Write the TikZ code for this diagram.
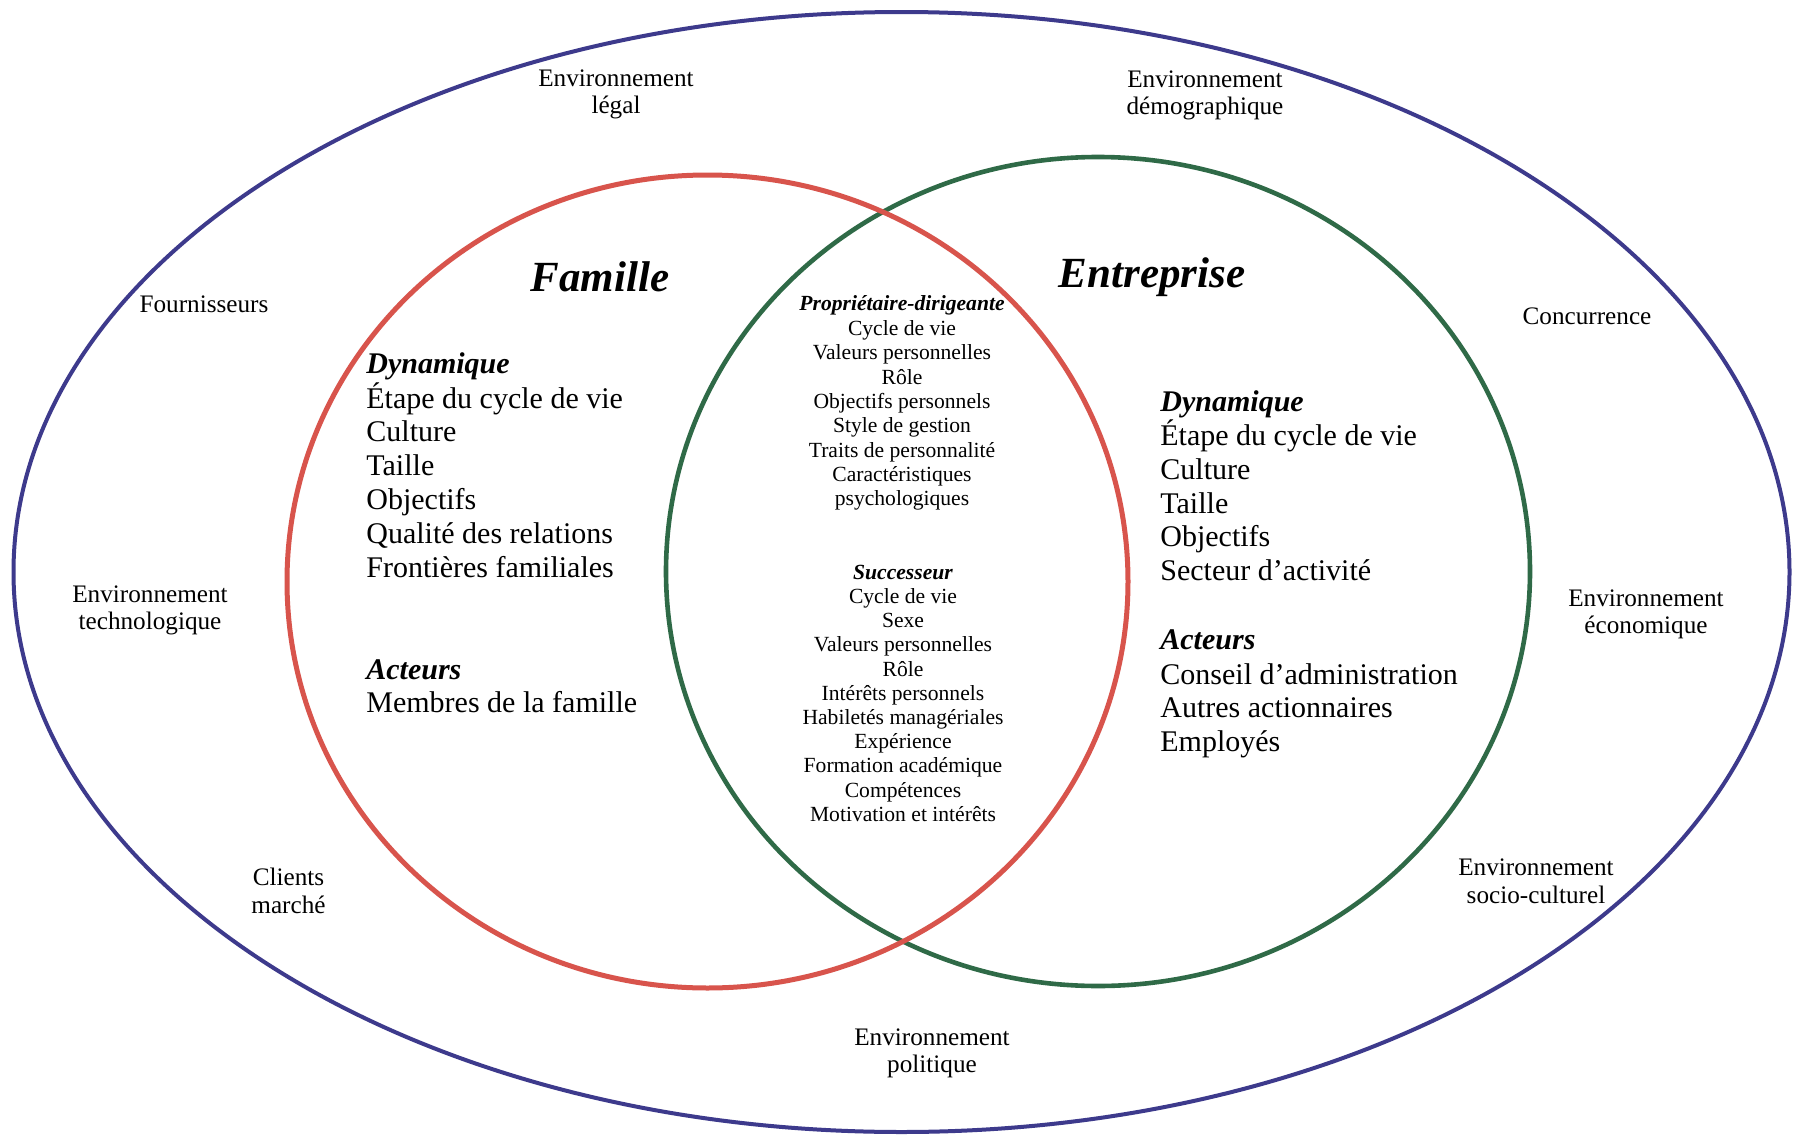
\documentclass[tikz,border=0pt]{standalone}
\usepackage{fontspec}
\setmainfont{Liberation Serif}
\usetikzlibrary{shapes.geometric}

\definecolor{envblue}{HTML}{3D3A8C}
\definecolor{famred}{HTML}{D8544C}
\definecolor{entgreen}{HTML}{2F6A47}

\tikzset{
  ring/.style={ellipse, draw, inner sep=0pt, fill=none},
  envlbl/.style={font=\fontsize{12.6}{13.8}\selectfont, align=center, inner sep=0pt},
  bigtitle/.style={font=\fontsize{21.5}{24}\selectfont\bfseries\itshape, inner sep=0pt, anchor=base},
  listhead/.style={font=\fontsize{15}{17}\selectfont\bfseries\itshape, inner sep=0pt, anchor=base west},
  listitem/.style={font=\fontsize{15}{17}\selectfont, inner sep=0pt, anchor=base west},
  midhead/.style={font=\fontsize{10.8}{12}\selectfont\bfseries\itshape, inner sep=0pt, anchor=base},
  miditem/.style={font=\fontsize{10.8}{12}\selectfont, inner sep=0pt, anchor=base},
}

\begin{document}
\begin{tikzpicture}[x=0.5pt, y=-0.5pt]
\useasboundingbox (0,0) rectangle (1795,1135);
\fill[white] (0,0) rectangle (1795,1135);

% environment, family and business rings
\node[ring, draw=envblue, line width=2pt, minimum width=888pt, minimum height=560pt] (env) at (901.5,572) {};
\node[ring, draw=entgreen, line width=2.3pt, minimum width=432pt, minimum height=414.5pt] (ent) at (1098,571.5) {};
\node[ring, draw=famred, line width=2.5pt, minimum width=420.5pt, minimum height=406.5pt] (fam) at (707.5,581.5) {};

% environment factors
\node[envlbl] (legal) at (616,94.5) {Environnement\\légal};
\node[envlbl] (demo) at (1205,95.5) {Environnement\\démographique};
\node[envlbl] (fourn) at (204,304) {Fournisseurs};
\node[envlbl] (conc) at (1587,316) {Concurrence};
\node[envlbl] (techno) at (150,610.5) {Environnement\\technologique};
\node[envlbl] (eco) at (1646,614.5) {Environnement\\économique};
\node[envlbl] (clients) at (288.5,891) {Clients\\marché};
\node[envlbl] (socio) at (1536,881.5) {Environnement\\socio-culturel};
\node[envlbl] (polit) at (932,1053.5) {Environnement\\politique};

% titles
\node[bigtitle] (famtitle) at (600,291) {Famille};
\node[bigtitle] (enttitle) at (1152,287) {Entreprise};

% family side
\node[listhead] (famdyn) at (366,373.5) {Dynamique};
\foreach \t [count=\i] in {Étape du cycle de vie, Culture, Taille, Objectifs, Qualité des relations, Frontières familiales}
  \node[listitem] (famdyn\i) at (366,{408+33.8*(\i-1)}) {\t};
\node[listhead] (famact) at (366,679) {Acteurs};
\node[listitem] (famact1) at (366,712.5) {Membres de la famille};

% business side
\node[listhead] (entdyn) at (1160,411) {Dynamique};
\foreach \t [count=\i] in {Étape du cycle de vie, Culture, Taille, Objectifs, Secteur d’activité}
  \node[listitem] (entdyn\i) at (1160,{445.5+33.8*(\i-1)}) {\t};
\node[listhead] (entact) at (1160,649) {Acteurs};
\foreach \t [count=\i] in {Conseil d’administration, Autres actionnaires, Employés}
  \node[listitem] (entact\i) at (1160,{684+33.8*(\i-1)}) {\t};

% overlap: owner-manager and successor
\node[midhead] (owner) at (902,310.5) {Propriétaire-dirigeante};
\foreach \t [count=\i] in {Cycle de vie, Valeurs personnelles, Rôle, Objectifs personnels, Style de gestion, Traits de personnalité, Caractéristiques, psychologiques}
  \node[miditem] (owner\i) at (902,{335.5+24.3*(\i-1)}) {\t};
\node[midhead] (succ) at (903,579) {Successeur};
\foreach \t [count=\i] in {Cycle de vie, Sexe, Valeurs personnelles, Rôle, Intérêts personnels, Habiletés managériales, Expérience, Formation académique, Compétences, Motivation et intérêts}
  \node[miditem] (succ\i) at (903,{603.5+24.2*(\i-1)}) {\t};
\end{tikzpicture}
\end{document}
